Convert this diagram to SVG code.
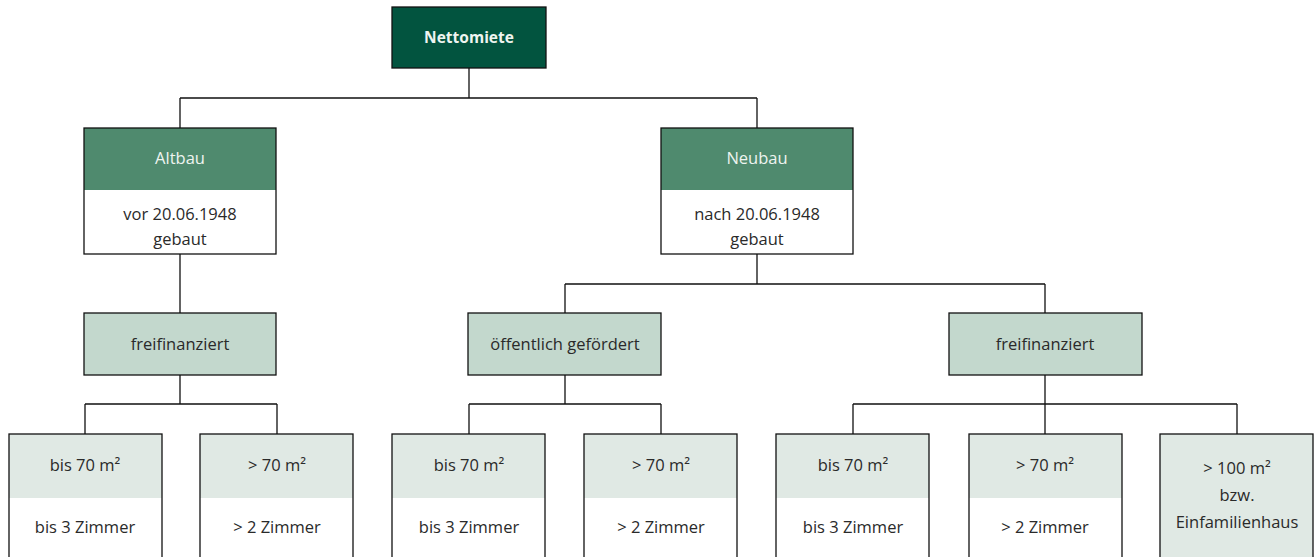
<svg xmlns="http://www.w3.org/2000/svg" width="1314" height="557" viewBox="0 0 1314 557">
<style>
text{font-family:"Open Sans","Noto Sans","Liberation Sans",sans-serif;font-size:16.5px;text-anchor:middle;fill:#2a2a2a}
.b{fill:none;stroke:#111;stroke-width:1.3}
.top{fill:#02543f}
.hd{fill:#4f8a6e}
.mid{fill:#c3d8cd}
.lf{fill:#e0e9e4}
.w{fill:#fff}
.tw{fill:#eef4f0}
.c{fill:none;stroke:#111;stroke-width:1.3}
</style>
<g id="connectors">
<path class="c" d="M469,68V98M180,98H757M180,98V128M757,98V128"/>
<path class="c" d="M180,254V313M180,375V404M85,404H277M85,404V434M277,404V434"/>
<path class="c" d="M757,254V284M565,284H1045M565,284V313M1045,284V313"/>
<path class="c" d="M565,375V404M469,404H661M469,404V434M661,404V434"/>
<path class="c" d="M1045,375V404M853,404H1237M853,404V434M1045,404V434M1237,404V434"/>
</g>
<g id="n-nettomiete">
<rect class="top" x="392" y="7" width="154" height="61"/>
<rect class="b" x="392" y="7" width="154" height="61"/>
<text x="469" y="43" style="font-weight:bold;font-size:15.5px;fill:#eef4f0">Nettomiete</text>
</g>
<g id="n-altbau">
<rect class="w" x="84" y="128" width="192" height="126"/>
<rect class="hd" x="84" y="128" width="192" height="62"/>
<rect class="b" x="84" y="128" width="192" height="126"/>
<text class="tw" x="180" y="164">Altbau</text>
<text x="180" y="220">vor 20.06.1948</text>
<text x="180" y="245">gebaut</text>
</g>
<g id="n-neubau">
<rect class="w" x="661" y="128" width="192" height="126"/>
<rect class="hd" x="661" y="128" width="192" height="62"/>
<rect class="b" x="661" y="128" width="192" height="126"/>
<text class="tw" x="757" y="164">Neubau</text>
<text x="757" y="220">nach 20.06.1948</text>
<text x="757" y="245">gebaut</text>
</g>
<g id="n-frei1">
<rect class="mid" x="84" y="313" width="192" height="62"/>
<rect class="b" x="84" y="313" width="192" height="62"/>
<text x="180" y="350">freifinanziert</text>
</g>
<g id="n-oeff">
<rect class="mid" x="468" y="313" width="193" height="62"/>
<rect class="b" x="468" y="313" width="193" height="62"/>
<text x="565" y="350">öffentlich gefördert</text>
</g>
<g id="n-frei2">
<rect class="mid" x="949" y="313" width="193" height="62"/>
<rect class="b" x="949" y="313" width="193" height="62"/>
<text x="1045" y="350">freifinanziert</text>
</g>
<g id="n-l1">
<rect class="w" x="9" y="434" width="153" height="130"/>
<rect class="lf" x="9" y="434" width="153" height="64"/>
<rect class="b" x="9" y="434" width="153" height="130"/>
<text x="85" y="471">bis 70 m²</text>
<text x="85" y="533">bis 3 Zimmer</text>
</g>
<g id="n-l2">
<rect class="w" x="200" y="434" width="153" height="130"/>
<rect class="lf" x="200" y="434" width="153" height="64"/>
<rect class="b" x="200" y="434" width="153" height="130"/>
<text x="277" y="471">&gt; 70 m²</text>
<text x="277" y="533">&gt; 2 Zimmer</text>
</g>
<g id="n-l3">
<rect class="w" x="392" y="434" width="153" height="130"/>
<rect class="lf" x="392" y="434" width="153" height="64"/>
<rect class="b" x="392" y="434" width="153" height="130"/>
<text x="469" y="471">bis 70 m²</text>
<text x="469" y="533">bis 3 Zimmer</text>
</g>
<g id="n-l4">
<rect class="w" x="584" y="434" width="153" height="130"/>
<rect class="lf" x="584" y="434" width="153" height="64"/>
<rect class="b" x="584" y="434" width="153" height="130"/>
<text x="661" y="471">&gt; 70 m²</text>
<text x="661" y="533">&gt; 2 Zimmer</text>
</g>
<g id="n-l5">
<rect class="w" x="776" y="434" width="153" height="130"/>
<rect class="lf" x="776" y="434" width="153" height="64"/>
<rect class="b" x="776" y="434" width="153" height="130"/>
<text x="853" y="471">bis 70 m²</text>
<text x="853" y="533">bis 3 Zimmer</text>
</g>
<g id="n-l6">
<rect class="w" x="969" y="434" width="153" height="130"/>
<rect class="lf" x="969" y="434" width="153" height="64"/>
<rect class="b" x="969" y="434" width="153" height="130"/>
<text x="1045" y="471">&gt; 70 m²</text>
<text x="1045" y="533">&gt; 2 Zimmer</text>
</g>
<g id="n-l7">
<rect class="lf" x="1160" y="434" width="153" height="130"/>
<rect class="b" x="1160" y="434" width="153" height="130"/>
<text x="1237" y="474">&gt; 100 m²</text>
<text x="1237" y="501">bzw.</text>
<text x="1237" y="528">Einfamilienhaus</text>
</g>
</svg>
